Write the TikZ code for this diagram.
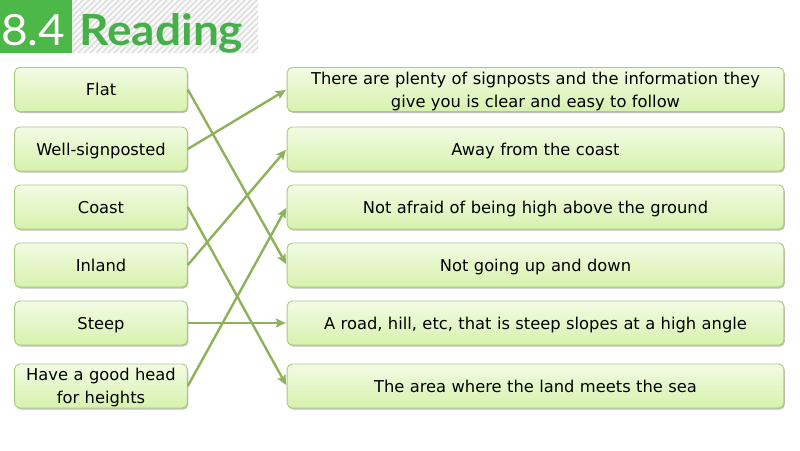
\documentclass[tikz,border=0pt]{standalone}
\usepackage{fontspec}
\setmainfont{DejaVu Sans}
\newfontfamily\headfont{Lato}[FakeStretch=1.07]
\usetikzlibrary{arrows.meta,shadows}
\definecolor{boxborder}{HTML}{A9CB7C}
\definecolor{boxtop}{HTML}{F3FBE4}
\definecolor{boxbot}{HTML}{D6F2AC}
\definecolor{arrowgreen}{HTML}{8DB259}
\definecolor{headgreen}{HTML}{4CB848}
\definecolor{readgreen}{HTML}{45B04A}
\tikzset{
  wordbox/.style={draw=boxborder, line width=0.9pt, rounded corners=5pt,
    top color=boxtop, bottom color=boxbot, minimum height=44pt,
    align=center, font=\fontsize{16.3}{23}\selectfont, text=black, text depth=0pt,
    drop shadow={shadow xshift=1pt, shadow yshift=-1.5pt, opacity=0.25, fill=black}},
  twolines/.style={text depth=23pt},
  leftbox/.style={wordbox, minimum width=170pt, text width=166pt},
  rightbox/.style={wordbox, minimum width=495pt, text width=490pt},
  link/.style={draw=arrowgreen, line width=2.4pt, -{Stealth[length=10pt,width=9pt,inset=2pt]}, shorten >=1pt}
}
\begin{document}
\begin{tikzpicture}[x=1pt,y=-1pt]
\useasboundingbox (0,0) rectangle (800,450);
% header
\begin{scope}
\clip (72,0) rectangle (258,53);
\fill[gray!5] (72,0) rectangle (258,53);
\foreach \i in {0,6,...,260} {
  \draw[gray!30, line width=1.1pt] (72+\i-60,53) -- (72+\i,-7);
}
\end{scope}
\fill[headgreen] (0,0) rectangle (72,53);
\node[anchor=base west, text=white, inner sep=0pt, font=\headfont\fontsize{43}{43}\selectfont] (num) at (1,45) {8.4};
\node[anchor=base west, text=readgreen, font=\headfont\bfseries\fontsize{43}{43}\selectfont, inner sep=0pt] (title) at (79,45) {Reading};
% left boxes
\node[leftbox] (l1) at (101,89.5) {Flat};
\node[leftbox] (l2) at (101,149) {Well-signposted};
\node[leftbox] (l3) at (101,207) {Coast};
\node[leftbox] (l4) at (101,265) {Inland};
\node[leftbox] (l5) at (101,323) {Steep};
\node[leftbox, twolines] (l6) at (101,386) {Have a good head\\for heights};
% right boxes
\node[rightbox, twolines] (r1) at (535.5,89.5) {There are plenty of signposts and the information they\\give you is clear and easy to follow};
\node[rightbox] (r2) at (535.5,149) {Away from the coast};
\node[rightbox] (r3) at (535.5,207) {Not afraid of being high above the ground};
\node[rightbox] (r4) at (535.5,265) {Not going up and down};
\node[rightbox] (r5) at (535.5,323) {A road, hill, etc, that is steep slopes at a high angle};
\node[rightbox] (r6) at (535.5,386) {The area where the land meets the sea};
% links
\draw[link] (l1.east) -- (r4.west);
\draw[link] (l2.east) -- (r1.west);
\draw[link] (l3.east) -- (r6.west);
\draw[link] (l4.east) -- (r2.west);
\draw[link] (l5.east) -- (r5.west);
\draw[link] (l6.east) -- (r3.west);
\end{tikzpicture}
\end{document}
